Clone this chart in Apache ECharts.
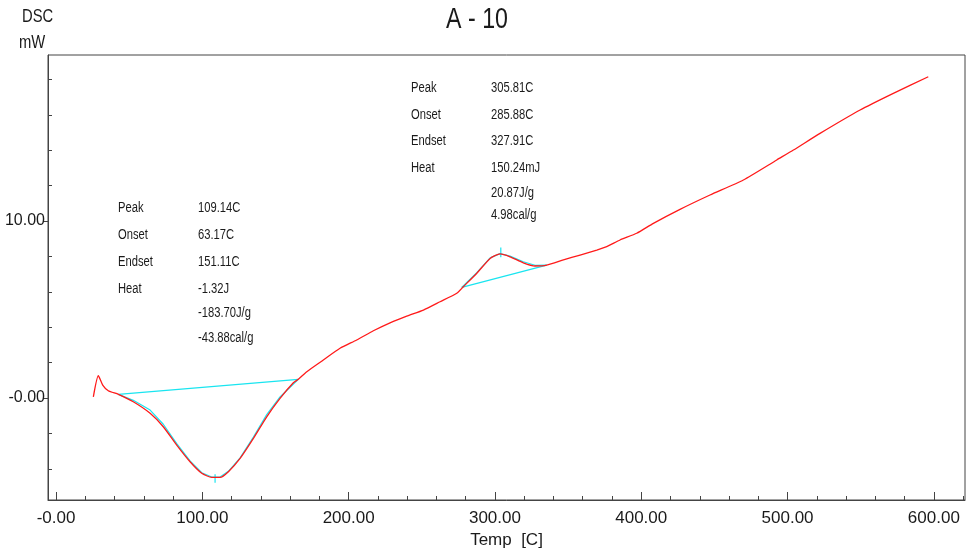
<!DOCTYPE html>
<html>
<head>
<meta charset="utf-8">
<title>A - 10</title>
<script src="https://cdn.jsdelivr.net/npm/echarts@6/dist/echarts.min.js"></script>
<style>
  html, body { margin: 0; padding: 0; background: #fff; }
  #chart { width: 968px; height: 555px; }
</style>
</head>
<body>
<div id="chart"></div>
<script>
  // DSC 曲线数据
  const tempC = [25.5, 28.9, 31.9, 35.7, 42.6, 52.8, 64.3, 73.3, 82.5, 91.6, 99.6, 106.4, 112.1, 117.8, 125.8,
    134.9, 144.0, 153.1, 162.2, 165.6, 171.4, 182.7, 194.1, 205.5, 216.9, 228.3, 239.7, 251.1, 262.5, 273.9,
    278.4, 287.6, 296.7, 303.5, 310.3, 319.4, 327.4, 335.4, 346.8, 358.2, 369.6, 376.4, 385.5, 396.9, 408.3,
    426.5, 447.0, 469.8, 492.6, 504.0, 522.2, 549.6, 572.3, 596.2];
  const dscMw = [0.07, 1.26, 0.73, 0.41, 0.21, -0.21, -0.86, -1.62, -2.66, -3.60, -4.25, -4.48, -4.48, -4.16, -3.41,
    -2.28, -1.06, -0.02, 0.86, 1.06, 1.49, 2.15, 2.81, 3.28, 3.80, 4.25, 4.63, 4.97, 5.44, 5.92,
    6.29, 7.05, 7.89, 8.14, 7.98, 7.64, 7.46, 7.51, 7.80, 8.08, 8.36, 8.55, 8.93, 9.31, 9.87,
    10.66, 11.47, 12.32, 13.45, 14.01, 14.95, 16.27, 17.21, 18.15];

  // 吸热峰拟合线与基线
  const fit1Temp = [42.6, 52.8, 64.3, 73.3, 82.5, 91.6, 99.6, 106.4, 112.1, 117.8, 125.8, 134.9, 144.0, 153.1, 165.6];
  const fit1Mw = [0.21, -0.13, -0.68, -1.48, -2.58, -3.55, -4.22, -4.46, -4.46, -4.14, -3.38, -2.20, -0.94, 0.06, 1.06];
  const base1Temp = [42.6, 165.6];
  const base1Mw = [0.21, 1.06];
  const mark1Temp = [108.7, 108.7];
  const mark1Mw = [-4.3, -4.78];

  // 放热峰拟合线与基线
  const fit2Temp = [277.3, 287.6, 296.7, 303.5, 310.3, 319.4, 327.4, 335.4];
  const fit2Mw = [6.25, 7.08, 7.92, 8.16, 8.02, 7.70, 7.50, 7.51];
  const base2Temp = [277.3, 335.4];
  const base2Mw = [6.25, 7.51];
  const mark2Temp = [304.0, 304.0];
  const mark2Mw = [7.95, 8.5];

  // 刻度
  const xMajor = [0, 100, 200, 300, 400, 500, 600];
  const xMinor = [20, 40, 60, 80, 120, 140, 160, 180, 220, 240, 260, 280, 320, 340, 360, 380,
    420, 440, 460, 480, 520, 540, 560, 580, 620];
  const yMajor = [0, 10];
  const yMinor = [-4, -2, 2, 4, 6, 8, 12, 14, 16, 18];

  // 标注文字
  const peak1Labels = ['Peak', 'Onset', 'Endset', 'Heat'];
  const peak1Values = ['109.14C', '63.17C', '151.11C', '-1.32J', '-183.70J/g', '-43.88cal/g'];
  const peak2Labels = ['Peak', 'Onset', 'Endset', 'Heat'];
  const peak2Values = ['305.81C', '285.88C', '327.91C', '150.24mJ', '20.87J/g', '4.98cal/g'];

  const FONT = '"Liberation Sans", Arial, sans-serif';
  const textColor = '#1a1a1a';
  const axisColor = '#444';

  const zip = (xs, ys) => xs.map((x, i) => [x, ys[i]]);
  const fmt = (v) => (v === 0 ? '-0.00' : v.toFixed(2));

  const rowsY1 = [208, 235, 262, 289, 313, 338];
  const rowsY2 = [88, 115, 141, 168, 193, 215];

  // 原图文字偏窄，用 scaleX 压缩
  const textEl = (x, y, text, size, sx, align) => ({
    type: 'text',
    x: x,
    y: y,
    scaleX: sx,
    style: {
      text: text,
      fill: textColor,
      font: size + 'px ' + FONT,
      align: align || 'left',
      verticalAlign: 'middle',
    },
  });

  const graphics = [
    textEl(477, 20, 'A - 10', 29, 0.8, 'center'),
    textEl(22, 17, 'DSC', 18, 0.82),
    textEl(19, 43, 'mW', 18, 0.82),
  ];
  peak1Labels.forEach((t, i) => graphics.push(textEl(118, rowsY1[i], t, 14, 0.8)));
  peak1Values.forEach((t, i) => graphics.push(textEl(198, rowsY1[i], t, 14, 0.8)));
  peak2Labels.forEach((t, i) => graphics.push(textEl(411, rowsY2[i], t, 14, 0.8)));
  peak2Values.forEach((t, i) => graphics.push(textEl(491, rowsY2[i], t, 14, 0.8)));

  const cyanLine = (name, data) => ({
    name: name,
    type: 'line',
    data: data,
    showSymbol: false,
    silent: true,
    animation: false,
    lineStyle: { color: '#19e5f0', width: 1.2 },
    z: 3,
  });

  const chart = echarts.init(document.getElementById('chart'));
  const option = {
    backgroundColor: '#fff',
    animation: false,
    grid: {
      left: 48,
      right: 3,
      top: 55,
      bottom: 55,
      containLabel: false,
      outerBoundsMode: 'none',
      show: true,
      borderColor: axisColor,
      borderWidth: 1,
    },
    graphic: graphics,
    xAxis: [
      {
        type: 'value',
        position: 'bottom',
        min: -5.5,
        max: 621.3,
        name: 'Temp  [C]',
        nameLocation: 'middle',
        nameGap: 32,
        nameTextStyle: { color: textColor, fontSize: 17, fontFamily: FONT },
        axisLine: { onZero: false, lineStyle: { color: axisColor, width: 1 } },
        axisTick: { inside: true, length: 8, customValues: xMajor, lineStyle: { color: axisColor } },
        axisLabel: { customValues: xMajor, formatter: fmt, color: textColor, fontSize: 17, fontFamily: FONT, margin: 10 },
        splitLine: { show: false },
      },
      {
        type: 'value',
        position: 'bottom',
        min: -5.5,
        max: 621.3,
        axisLine: { show: false, onZero: false },
        axisTick: { inside: true, length: 4, customValues: xMinor, lineStyle: { color: axisColor } },
        axisLabel: { show: false },
        splitLine: { show: false },
      },
    ],
    yAxis: [
      {
        type: 'value',
        position: 'left',
        min: -5.76,
        max: 19.38,
        axisLine: { show: true, onZero: false, lineStyle: { color: axisColor, width: 1 } },
        axisTick: { show: true, length: 4, customValues: yMajor, lineStyle: { color: axisColor } },
        axisLabel: { customValues: yMajor, formatter: fmt, color: textColor, fontSize: 16, fontFamily: FONT, margin: 3 },
        splitLine: { show: false },
      },
      {
        type: 'value',
        position: 'left',
        min: -5.76,
        max: 19.38,
        axisLine: { show: false, onZero: false },
        axisTick: { show: true, inside: true, length: 4, customValues: yMinor, lineStyle: { color: axisColor } },
        axisLabel: { show: false },
        splitLine: { show: false },
      },
    ],
    series: [
      cyanLine('baseline1', zip(base1Temp, base1Mw)),
      cyanLine('fit1', zip(fit1Temp, fit1Mw)),
      cyanLine('mark1', zip(mark1Temp, mark1Mw)),
      cyanLine('baseline2', zip(base2Temp, base2Mw)),
      cyanLine('fit2', zip(fit2Temp, fit2Mw)),
      cyanLine('mark2', zip(mark2Temp, mark2Mw)),
      {
        name: 'DSC',
        type: 'line',
        data: zip(tempC, dscMw),
        showSymbol: false,
        smooth: 0.2,
        lineStyle: { color: '#ff1a1a', width: 1.3 },
        z: 4,
      },
    ],
  };
  chart.setOption(option);
</script>
</body>
</html>
